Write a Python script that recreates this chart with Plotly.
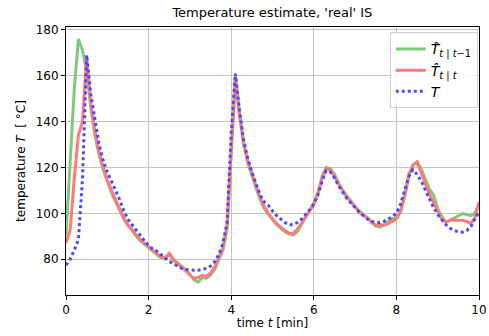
import numpy as np
import plotly.graph_objects as go

time_min = [round(0.1 * i, 1) for i in range(101)]

T_true = [77.4, 80.0, 84.0, 88.5, 115, 169, 152, 140, 130, 123,
          118, 114, 110, 106, 101, 97.5, 95, 92.5, 90, 88,
          86, 84.5, 83.5, 82, 80.5, 79, 78, 77, 76, 75.5,
          75.2, 75.2, 75.2, 75.5, 76, 77, 79, 82, 87, 96,
          135, 161, 145, 132, 124, 118, 113, 108, 105, 103.5,
          101, 99, 97.5, 96, 95, 95, 96, 97.5, 99.5, 101.5,
          104, 108, 114, 118.6, 118, 115.5, 112, 109, 106.5, 104.5,
          102.5, 100.5, 99, 97.5, 96.5, 96, 96, 96.5, 97.5, 98.5,
          100, 104, 110, 116, 119, 117, 114, 110, 106, 102.5,
          99.5, 97, 95, 93.5, 92.5, 92, 91.8, 92.5, 94, 97.5,
          100.6]

T_filt = [87, 92.6, 115, 134, 140, 168, 148, 136, 127, 120,
          114.5, 110, 106, 102, 98, 95, 93, 90.5, 88.5, 87,
          85.5, 84, 82.5, 81, 80.5, 82.5, 80, 78, 76.5, 75,
          73, 71.5, 72, 73, 72.5, 74, 76.5, 81, 85, 95,
          130, 160, 143, 131, 123, 117, 112, 107, 103, 100,
          97.5, 95.5, 94, 92.5, 91.2, 91.2, 93, 95.5, 98, 101,
          104, 108.5, 115, 119.5, 119, 116, 112.5, 109.5, 107, 105,
          102.5, 100.5, 99, 98, 96, 94.8, 95, 94.8, 95.5, 96.5,
          97.5, 101, 108, 117, 121, 122.3, 118, 113, 108.5, 105,
          101, 97.5, 96, 97, 97, 97, 97, 96.5, 95.5, 98,
          105]

T_pred = [90, 122, 154, 176, 171, 162, 146, 134, 125.5, 119,
          113.5, 109, 105, 101, 97.5, 94.5, 92.5, 90, 88, 86.5,
          85, 83.5, 82, 80.5, 80.5, 82, 79.5, 78.5, 77, 75.5,
          73.5, 71, 70, 72, 71.7, 73, 75.5, 80, 84, 93,
          125, 158, 144, 130, 122, 116, 111, 106, 102, 99.5,
          97, 95, 93.5, 92, 91, 90.5, 92, 95, 98, 101,
          104.5, 109, 116, 120, 119.5, 117, 113, 110, 107.5, 105.5,
          103, 101, 99.5, 98, 96.5, 94.5, 94, 95, 96.5, 97.7,
          98, 100.5, 107, 116, 121, 122.5, 119.5, 115, 110.5, 108,
          102, 98.5, 96.2, 97, 98, 99, 99.9, 99.5, 99, 100,
          104]

x_ticks = [0, 2, 4, 6, 8, 10]
y_ticks = [80, 100, 120, 140, 160, 180]

FONT = "DejaVu Sans"

fig = go.Figure()
fig.add_trace(go.Scatter(
    x=time_min, y=T_pred, mode="lines",
    name="<i>T̂</i><sub><i>t</i> | <i>t</i>−1</sub>",
    line=dict(color="#7dc97d", width=3)))
fig.add_trace(go.Scatter(
    x=time_min, y=T_filt, mode="lines",
    name="<i>T̂</i><sub><i>t</i> | <i>t</i></sub>",
    line=dict(color="#ff7b7b", width=3)))
fig.add_trace(go.Scatter(
    x=time_min, y=T_true, mode="lines",
    name="<i>T</i>",
    line=dict(color="#4a4aff", width=3, dash="dot")))

axis_common = dict(
    showline=True, linecolor="black", linewidth=1, mirror=True,
    ticks="outside", ticklen=4, tickcolor="black", tickwidth=1,
    showgrid=True, gridcolor="#c4c4c4", gridwidth=1,
    zeroline=False, automargin=False,
    tickfont=dict(family=FONT, size=12, color="black"),
)

fig.update_layout(
    width=489, height=336,
    margin=dict(l=66, r=10, t=27, b=41),
    paper_bgcolor="white", plot_bgcolor="white",
    font=dict(family=FONT, size=12, color="black"),
    title=dict(text="Temperature estimate, 'real' IS",
               x=0.557, xanchor="center", y=0.962, yanchor="middle",
               font=dict(family=FONT, size=13, color="black")),
    xaxis=dict(range=[0, 10], tickvals=x_ticks,
               title=dict(text="time <i>t</i> [min]", standoff=2,
                          font=dict(family=FONT, size=12)),
               **axis_common),
    yaxis=dict(range=[64.4, 181.2], tickvals=y_ticks,
               title=dict(text="temperature <i>T</i>  [ °C]", standoff=7,
                          font=dict(family=FONT, size=12)),
               **axis_common),
    legend=dict(x=0.997, xanchor="right", y=0.98, yanchor="top",
                bgcolor="rgba(255,255,255,0.85)", bordercolor="#d0d0d0",
                borderwidth=1, font=dict(family=FONT, size=14),
                tracegroupgap=4, itemwidth=30),
    showlegend=True,
)

fig.write_html("out.html",
               config={"displayModeBar": False},
               post_script="document.body.style.margin='0';document.body.style.overflow='hidden';")
